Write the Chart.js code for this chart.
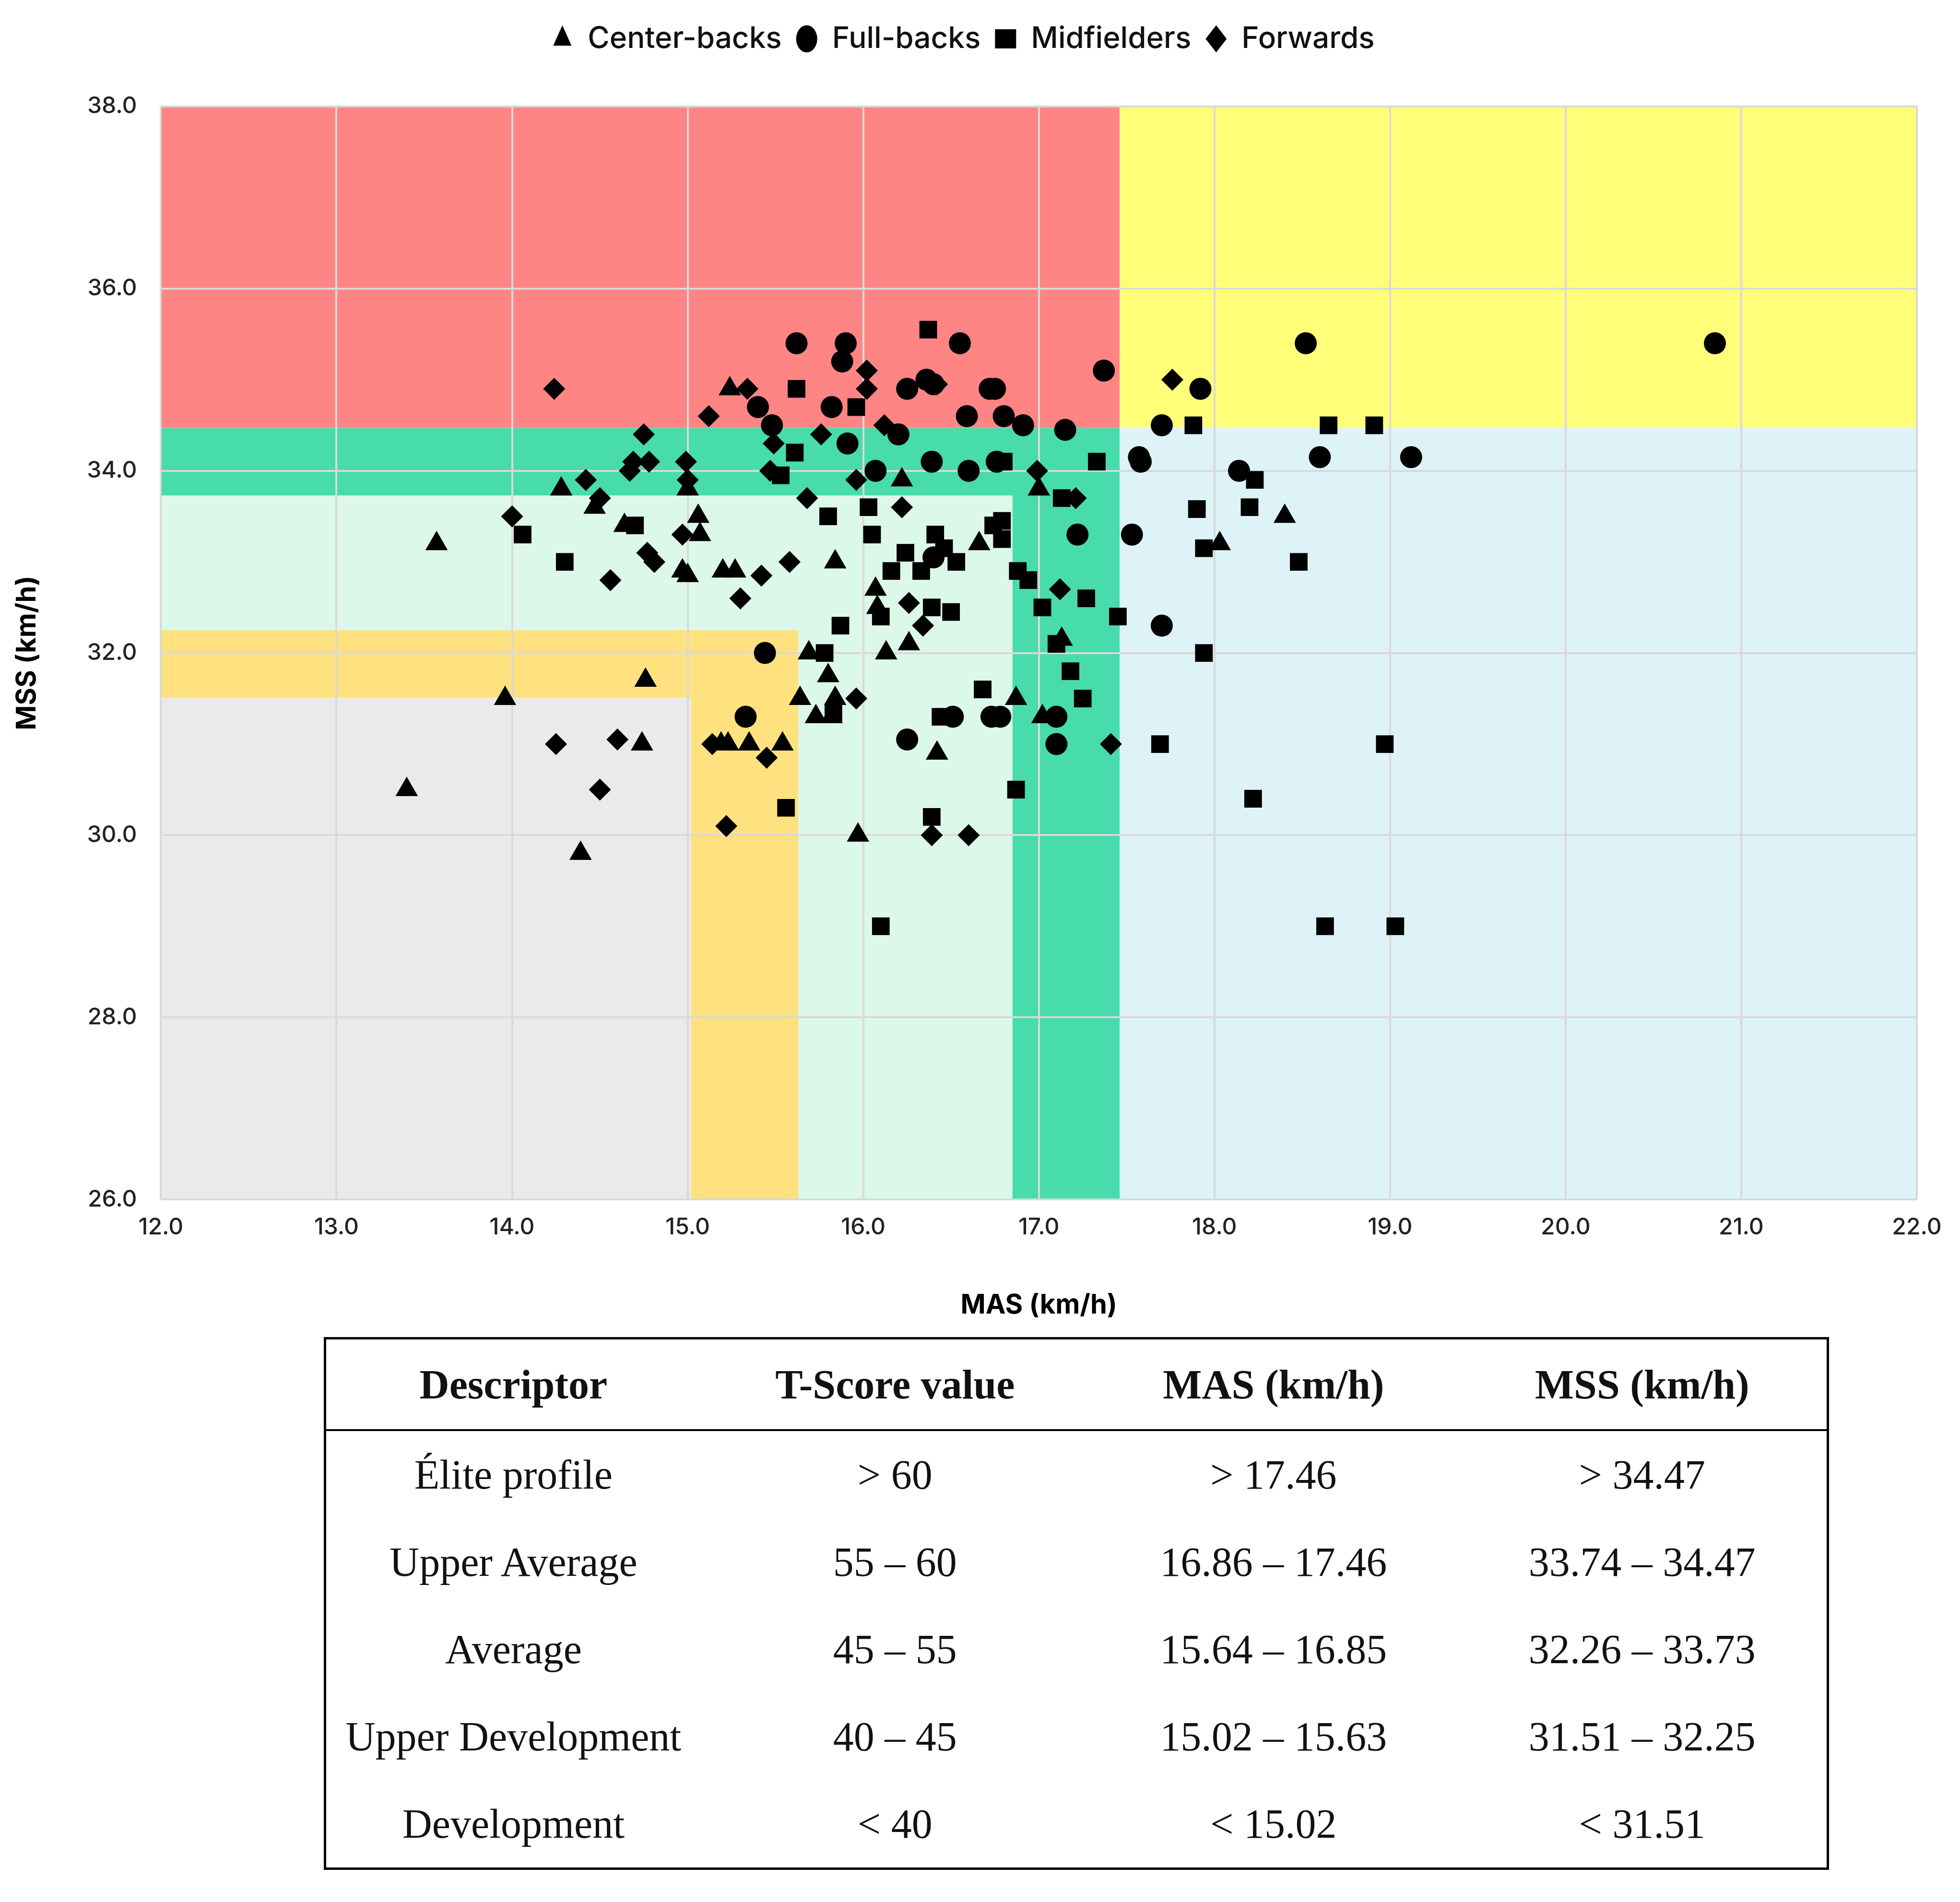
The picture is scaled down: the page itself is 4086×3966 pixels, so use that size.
<!DOCTYPE html>
<html>
<head>
<meta charset="utf-8">
<script src="https://cdn.jsdelivr.net/npm/chart.js@4/dist/chart.umd.min.js"></script>
<style>
  body { margin: 0; background: #fff; width: 4086px; height: 3966px; }
  #wrap { position: absolute; left: 0; top: 0; width: 4086px; height: 2800px; }
  table {
    position: absolute; left: 675px; top: 2788px; width: 3138px;
    border-collapse: collapse; border: 5px solid #000;
    font-family: 'Liberation Serif', 'DejaVu Serif', serif; font-size: 86px; color: #111;
  }
  th { font-weight: bold; height: 185px; border-bottom: 4px solid #000; text-align: center; }
  td { height: 180px; text-align: center; }
  td:first-child, th:first-child { width: 25%; }
</style>
</head>
<body>
<div id="wrap"><canvas id="chart"></canvas></div>
<table>
  <tr><th>Descriptor</th><th>T-Score value</th><th>MAS (km/h)</th><th>MSS (km/h)</th></tr>
  <tr><td>Élite profile</td><td>&gt; 60</td><td>&gt; 17.46</td><td>&gt; 34.47</td></tr>
  <tr><td>Upper Average</td><td>55 – 60</td><td>16.86 – 17.46</td><td>33.74 – 34.47</td></tr>
  <tr><td>Average</td><td>45 – 55</td><td>15.64 – 16.85</td><td>32.26 – 33.73</td></tr>
  <tr><td>Upper Development</td><td>40 – 45</td><td>15.02 – 15.63</td><td>31.51 – 32.25</td></tr>
  <tr><td>Development</td><td>&lt; 40</td><td>&lt; 15.02</td><td>&lt; 31.51</td></tr>
</table>
<script>
// [MAS, MSS] pairs
const centerBacks = [
  [13.57,33.2],[13.4,30.5],[13.96,31.5],[14.39,29.8],[14.28,33.8],[14.47,33.6],[14.76,31.7],[14.74,31.0],
  [14.64,33.4],[14.97,32.9],[15.0,33.8],[15.06,33.5],[15.07,33.3],[15.0,32.85],[15.24,34.9],[15.2,32.9],
  [15.27,32.9],[15.19,31.0],[15.23,31.0],[15.35,31.0],[15.64,31.5],[15.54,31.0],[15.69,32.0],[15.73,31.3],
  [15.8,31.75],[15.84,33.0],[15.84,31.5],[15.82,31.3],[15.97,30.0],[16.07,32.7],[16.08,32.5],[16.13,32.0],
  [16.26,32.1],[16.22,33.9],[16.42,30.9],[16.66,33.2],[16.87,31.5],[17.0,33.8],[17.13,32.15],[17.02,31.3],
  [18.03,33.2],[18.4,33.5]
];
const fullBacks = [
  [15.62,35.4],[15.9,35.4],[15.88,35.2],[15.82,34.7],[15.4,34.7],[15.48,34.5],[15.91,34.3],[16.25,34.9],
  [16.36,35.0],[16.4,34.95],[16.55,35.4],[16.72,34.9],[16.75,34.9],[16.59,34.6],[16.8,34.6],[16.91,34.5],
  [17.15,34.45],[17.37,35.1],[16.2,34.4],[16.39,34.1],[16.07,34.0],[16.76,34.1],[16.6,34.0],[17.57,34.15],
  [17.58,34.1],[17.7,34.5],[17.92,34.9],[18.52,35.4],[18.6,34.15],[19.12,34.15],[20.85,35.4],[18.14,34.0],
  [17.53,33.3],[17.22,33.3],[17.7,32.3],[15.44,32.0],[15.33,31.3],[16.25,31.05],[16.51,31.3],[16.73,31.3],
  [16.78,31.3],[17.1,31.3],[17.1,31.0],[16.4,33.05]
];
const midfielders = [
  [14.06,33.3],[14.3,33.0],[14.7,33.4],[15.62,34.9],[15.61,34.2],[15.53,33.95],[15.96,34.7],[16.37,35.55],
  [15.8,33.5],[16.03,33.6],[16.05,33.3],[16.16,32.9],[16.24,33.1],[16.41,33.3],[16.46,33.15],[16.53,33.0],
  [16.39,32.5],[16.5,32.45],[16.1,32.4],[15.87,32.3],[15.78,32.0],[15.83,31.35],[15.56,30.3],[16.44,31.3],
  [16.39,30.2],[16.1,29.0],[16.68,31.6],[16.87,30.5],[16.74,33.4],[16.79,33.45],[16.79,33.25],[16.8,34.1],
  [16.88,32.9],[16.94,32.8],[17.02,32.5],[17.1,32.1],[17.13,33.7],[17.18,31.8],[17.25,31.5],[17.27,32.6],
  [17.33,34.1],[17.45,32.4],[17.69,31.0],[17.88,34.5],[17.9,33.58],[17.94,33.15],[17.94,32.0],[18.23,33.9],
  [18.2,33.6],[18.48,33.0],[18.22,30.4],[18.65,34.5],[18.91,34.5],[18.97,31.0],[18.63,29.0],[19.03,29.0],
  [16.33,32.9]
];
const forwards = [
  [14.24,34.9],[14.0,33.5],[14.42,33.9],[14.5,33.7],[14.75,34.4],[14.69,34.1],[14.78,34.1],[14.67,34.0],
  [14.99,34.1],[15.0,33.9],[14.77,33.1],[14.81,33.0],[14.97,33.3],[14.56,32.8],[14.25,31.0],[14.6,31.05],
  [14.5,30.5],[15.12,34.6],[15.34,34.9],[15.3,32.6],[15.42,32.85],[15.58,33.0],[15.68,33.7],[15.49,34.3],
  [15.47,34.0],[15.76,34.4],[15.96,33.9],[16.02,35.1],[16.02,34.9],[16.12,34.5],[16.22,33.6],[16.26,32.55],
  [16.34,32.3],[16.42,34.95],[15.96,31.5],[15.14,31.0],[15.45,30.85],[15.22,30.1],[16.39,30.0],[16.6,30.0],
  [16.99,34.0],[17.12,32.7],[17.21,33.7],[17.41,31.0],[17.76,35.0]
];

// descriptor cut-offs [xFrom, xTo, yFrom, yTo, colour], drawn in order
const zones = [
  [12, 17.46, 34.47, 38, '#ff8585'],
  [17.46, 22, 34.47, 38, '#ffff7a'],
  [17.46, 22, 26, 34.47, '#ddf3f8'],
  [12, 17.46, 26, 34.47, '#48dbab'],
  [12, 16.85, 26, 33.73, '#dcf8e8'],
  [12, 15.63, 26, 32.25, '#ffe27f'],
  [12, 15.02, 26, 31.51, '#eaeaea'],
];

const zonePlugin = {
  id: 'zones',
  beforeDraw(chart) {
    const { ctx, scales: { x, y } } = chart;
    ctx.save();
    zones.forEach(([x0, x1, y0, y1, color]) => {
      const left = x.getPixelForValue(x0), right = x.getPixelForValue(x1);
      const top = y.getPixelForValue(y1), bottom = y.getPixelForValue(y0);
      ctx.fillStyle = color;
      ctx.fillRect(left, top, right - left, bottom - top);
    });
    ctx.restore();
  },
};

// extra room under the legend
const legendGap = {
  id: 'legendGap',
  beforeInit(chart) {
    const fit = chart.legend.fit;
    chart.legend.fit = function () {
      fit.call(this);
      this.height += 100;
    };
  },
};

const toPoints = arr => arr.map(([x, y]) => ({ x, y }));
const makeSet = (label, arr, style, radius) => ({
  label, data: toPoints(arr), pointStyle: style, pointRadius: radius,
  backgroundColor: '#000', borderColor: '#000', borderWidth: 0,
});

Chart.defaults.font.family = "Inter, 'Open Sans', sans-serif";
Chart.defaults.color = '#000';

new Chart(document.getElementById('chart').getContext('2d'), {
  type: 'scatter',
  data: {
    datasets: [
      makeSet('Center-backs', centerBacks, 'triangle', 27),
      makeSet('Full-backs', fullBacks, 'circle', 23),
      makeSet('Midfielders', midfielders, 'rect', 26),
      makeSet('Forwards', forwards, 'rectRot', 23),
    ],
  },
  options: {
    responsive: true,
    maintainAspectRatio: false,
    devicePixelRatio: 1,
    animation: false,
    layout: { padding: { left: 20, right: 90, top: 20, bottom: 40 } },
    plugins: {
      legend: {
        position: 'top',
        labels: {
          usePointStyle: true, pointStyleWidth: 44, boxHeight: 40, padding: 30,
          font: { size: 62, weight: 500 }, color: '#111',
        },
      },
      tooltip: { enabled: false },
    },
    scales: {
      x: {
        type: 'linear', min: 12, max: 22,
        border: { display: false },
        grid: { color: '#d9d9d9', lineWidth: 4, drawTicks: false },
        ticks: { stepSize: 1, padding: 30, font: { size: 48, weight: 500 }, color: '#222', callback: v => v.toFixed(1) },
        title: { display: true, text: 'MAS (km/h)', font: { size: 56, weight: 'bold' }, padding: { top: 70 } },
      },
      y: {
        type: 'linear', min: 26, max: 38,
        border: { display: false },
        grid: { color: '#d9d9d9', lineWidth: 4, drawTicks: false },
        ticks: { stepSize: 2, padding: 50, font: { size: 48, weight: 500 }, color: '#222', callback: v => v.toFixed(1) },
        title: { display: true, text: 'MSS (km/h)', font: { size: 56, weight: 'bold' }, padding: { bottom: 40 } },
      },
    },
  },
  plugins: [zonePlugin, legendGap],
});
</script>
</body>
</html>
